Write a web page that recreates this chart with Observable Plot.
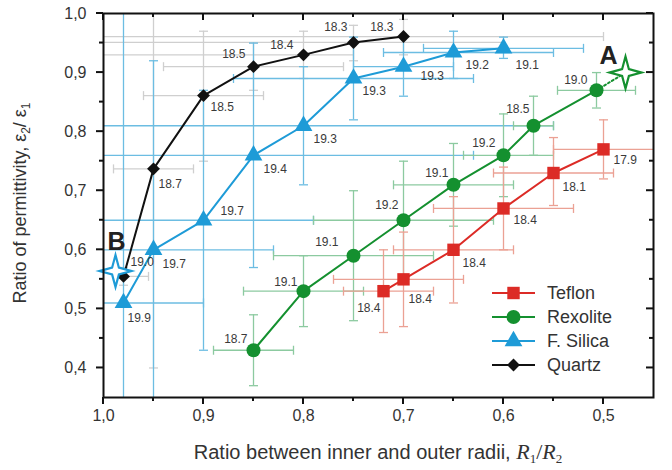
<!DOCTYPE html>
<html><head><meta charset="utf-8">
<script src="https://cdn.jsdelivr.net/npm/d3@7"></script>
<script src="https://cdn.jsdelivr.net/npm/@observablehq/plot@0.6"></script>
<style>
html,body{margin:0;padding:0;background:#fff;}
#chart{position:relative;width:672px;height:470px;}
</style></head><body><div id="chart"></div>
<script>
// ---------- data ----------
const seriesNames = ["Teflon", "Rexolite", "F. Silica", "Quartz"];

const teflonX  = [0.72, 0.70, 0.65, 0.60, 0.55, 0.50];
const teflonY  = [0.53, 0.55, 0.60, 0.67, 0.73, 0.77];
const teflonXL = [0.76, 0.77, 0.71, 0.67, 0.61, 0.55];
const teflonXR = [0.67, 0.64, 0.59, 0.53, 0.49, 0.43];
const teflonYL = [0.46, 0.47, 0.51, 0.60, 0.675, 0.72];
const teflonYH = [0.60, 0.63, 0.69, 0.74, 0.79, 0.82];
const teflonLabels = ["18.4", "18.4", "18.4", "18.4", "18.1", "17.9"];

const rexoliteX  = [0.85, 0.80, 0.75, 0.70, 0.65, 0.60, 0.57, 0.507];
const rexoliteY  = [0.43, 0.53, 0.59, 0.65, 0.71, 0.76, 0.81, 0.87];
const rexoliteXL = [0.89, 0.86, 0.83, 0.79, 0.71, 0.64, 0.59, 0.546];
const rexoliteXR = [0.81, 0.74, 0.67, 0.61, 0.59, 0.55, 0.55, 0.468];
const rexoliteYL = [0.37, 0.47, 0.48, 0.55, 0.64, 0.69, 0.76, 0.84];
const rexoliteYH = [0.49, 0.59, 0.70, 0.75, 0.78, 0.83, 0.86, 0.90];
const rexoliteLabels = ["18.7", "19.1", "19.1", "19.2", "19.1", "19.2", "18.5", "19.0"];

const silicaX  = [0.98, 0.95, 0.90, 0.85, 0.80, 0.75, 0.70, 0.65, 0.60];
const silicaY  = [0.51, 0.60, 0.65, 0.76, 0.81, 0.89, 0.91, 0.934, 0.941];
const silicaXL = [1.02, 1.02, 1.02, 1.02, 1.02, 0.87, 0.75, 0.72, 0.68];
const silicaXR = [0.90, 0.83, 0.79, 0.63, 0.55, 0.63, 0.65, 0.55, 0.52];
const silicaYL = [0.20, 0.20, 0.43, 0.57, 0.71, 0.82, 0.86, 0.89, 0.924];
const silicaYH = [1.05, 0.92, 0.87, 0.95, 0.91, 0.96, 0.96, 0.97, 0.96];
const silicaLabels = ["19.9", "19.7", "19.7", "19.4", "19.3", "19.3", "19.3", "19.2", "19.1"];

const quartzX  = [0.98, 0.95, 0.90, 0.85, 0.80, 0.75, 0.70];
const quartzY  = [0.555, 0.737, 0.861, 0.91, 0.93, 0.951, 0.961];
const quartzXL = [0.99, 0.99, 0.96, 0.94, 1.02, 1.02, 1.02];
const quartzXR = [0.955, 0.91, 0.84, 0.76, 0.75, 0.60, 0.50];
const quartzYL = [0.54, 0.40, 0.75, 0.87, 0.89, 0.92, 0.93];
const quartzYH = [0.57, 1.07, 0.97, 0.95, 0.97, 0.98, 0.99];
const quartzLabels = ["19.0", "18.7", "18.5", "18.5", "18.4", "18.3", "18.3"];

const starPoints = [{name: "A", x: 0.478, y: 0.90}, {name: "B", x: 0.988, y: 0.564}];

const xMajorTicks = [1.0, 0.9, 0.8, 0.7, 0.6, 0.5];
const xMinorTicks = [0.95, 0.85, 0.75, 0.65, 0.55];
const yMajorTicks = [0.4, 0.5, 0.6, 0.7, 0.8, 0.9, 1.0];
const yMinorTicks = [0.45, 0.55, 0.65, 0.75, 0.85, 0.95];

// ---------- label placement (layout, pixels) ----------
const teflonLabelPos   = [[-3,17,"end"],[5,20,"start"],[9,13,"start"],[10,12,"start"],[9,14,"start"],[10,11,"start"]];
const rexoliteLabelPos = [[-6,-11,"end"],[-6,-9,"end"],[-15,-14,"end"],[-5,-15,"end"],[-5,-12,"end"],[-8,-12,"end"],[-4,-17,"end"],[-9,-10,"end"]];
const silicaLabelPos   = [[4,15,"start"],[9,14,"start"],[17,-9,"start"],[10,14,"start"],[10,13,"start"],[9,13,"start"],[17,9,"start"],[12,13,"start"],[12,17,"start"]];
const quartzLabelPos   = [[7,-14,"start"],[5,15,"start"],[7,12,"start"],[-8,-13,"end"],[-10,-10,"end"],[-6,-15,"end"],[-10,-9,"end"]];

// ---------- styles ----------
const colors    = ["#dc2b26", "#14902f", "#1e9bd7", "#111111"];
const errColors = ["#eba194", "#8ccaa0", "#6cbde2", "#cfcfcf"];
const symbols   = ["square", "circle", "triangle", "diamond2"];
const radii     = [7, 7, 6.6, 5.8];

function rows(X, Y, XL, XR, YL, YH, L) {
  return X.map((x, i) => ({x, y: Y[i], xl: XL[i], xr: XR[i], yl: YL[i], yh: YH[i], label: L[i]}));
}
const series = [
  rows(teflonX, teflonY, teflonXL, teflonXR, teflonYL, teflonYH, teflonLabels),
  rows(rexoliteX, rexoliteY, rexoliteXL, rexoliteXR, rexoliteYL, rexoliteYH, rexoliteLabels),
  rows(silicaX, silicaY, silicaXL, silicaXR, silicaYL, silicaYH, silicaLabels),
  rows(quartzX, quartzY, quartzXL, quartzXR, quartzYL, quartzYH, quartzLabels)
];
const labelPos = [teflonLabelPos, rexoliteLabelPos, silicaLabelPos, quartzLabelPos];

const capV = {draw(ctx, size) { const r = Math.sqrt(size / Math.PI); ctx.moveTo(0, -r); ctx.lineTo(0, r); }};
const capH = {draw(ctx, size) { const r = Math.sqrt(size / Math.PI); ctx.moveTo(-r, 0); ctx.lineTo(r, 0); }};
const star4 = {draw(ctx, size) {
  const R = Math.sqrt(size / Math.PI), r = R * 0.3;
  for (let i = 0; i < 8; i++) {
    const a = i * Math.PI / 4 - Math.PI / 2, rr = i % 2 ? r : R;
    const px = rr * Math.cos(a), py = rr * Math.sin(a);
    if (i) ctx.lineTo(px, py); else ctx.moveTo(px, py);
  }
  ctx.closePath();
}};

const marks = [];
[3, 2, 1, 0].forEach(k => {
  const d = series[k], c = errColors[k];
  marks.push(Plot.ruleY(d, {y: "y", x1: "xl", x2: "xr", stroke: c, strokeWidth: 1.3, clip: true}));
  marks.push(Plot.ruleX(d, {x: "x", y1: "yl", y2: "yh", stroke: c, strokeWidth: 1.3, clip: true}));
  marks.push(Plot.dot(d, {x: "xl", y: "y", symbol: capV, r: 4.5, fill: "none", stroke: c, strokeWidth: 1.3, clip: true}));
  marks.push(Plot.dot(d, {x: "xr", y: "y", symbol: capV, r: 4.5, fill: "none", stroke: c, strokeWidth: 1.3, clip: true}));
  marks.push(Plot.dot(d, {x: "x", y: "yl", symbol: capH, r: 4.5, fill: "none", stroke: c, strokeWidth: 1.3, clip: true}));
  marks.push(Plot.dot(d, {x: "x", y: "yh", symbol: capH, r: 4.5, fill: "none", stroke: c, strokeWidth: 1.3, clip: true}));
});
const rexLast = series[1][series[1].length - 1];
marks.push(Plot.line([rexLast, starPoints[0]], {x: "x", y: "y", stroke: colors[1], strokeWidth: 2, strokeDasharray: "2,2.5"}));
[3, 2, 1, 0].forEach(k => {
  const d = series[k];
  marks.push(Plot.line(d, {x: "x", y: "y", stroke: colors[k], strokeWidth: 2}));
  marks.push(Plot.dot(d, {x: "x", y: "y", symbol: symbols[k], r: radii[k], fill: colors[k], stroke: "none"}));
});
marks.push(Plot.dot([starPoints[0]], {x: "x", y: "y", symbol: star4, r: 16, fill: "white", stroke: colors[1], strokeWidth: 2.2}));
marks.push(Plot.dot([starPoints[1]], {x: "x", y: "y", symbol: star4, r: 16, fill: "white", stroke: colors[2], strokeWidth: 2.2}));
marks.push(Plot.text([starPoints[0]], {x: "x", y: "y", text: "name", dx: -17, dy: -17, fontSize: 25, fontWeight: "bold", fill: "#222"}));
marks.push(Plot.text([starPoints[1]], {x: "x", y: "y", text: "name", dx: 1, dy: -29, fontSize: 25, fontWeight: "bold", fill: "#222"}));
series.forEach((d, k) => {
  d.forEach((row, i) => {
    const [dx, dy, anchor] = labelPos[k][i];
    marks.push(Plot.text([row], {x: "x", y: "y", text: "label", dx, dy, textAnchor: anchor, fontSize: 12, fill: "#3a3a3a"}));
  });
});
marks.push(Plot.frame({stroke: "#111", strokeWidth: 2}));

const fmt = d => d.toFixed(1).replace(".", ",");
const plot = Plot.plot({
  width: 672, height: 470,
  marginLeft: 103, marginRight: 19, marginTop: 13, marginBottom: 73,
  style: {fontFamily: "'Liberation Sans', Arial, sans-serif", fontSize: "16px", color: "#333", background: "white", overflow: "visible"},
  x: {domain: [1.0, 0.45], ticks: xMajorTicks, tickFormat: fmt, tickSize: 0, tickPadding: 12, label: null},
  y: {domain: [0.35, 1.0], ticks: yMajorTicks, tickFormat: fmt, tickSize: 0, tickPadding: 17, label: null},
  marks
});
document.getElementById("chart").appendChild(plot);

// ---------- ticks, titles, legend via Plot's scales ----------
const svg = d3.select(plot);
const xs = plot.scale("x"), ys = plot.scale("y");
const fx = xs.apply ? xs.apply : d3.scaleLinear(xs.domain, xs.range);
const fy = ys.apply ? ys.apply : d3.scaleLinear(ys.domain, ys.range);
const x0 = fx(1.0), x1 = fx(0.45), y0 = fy(1.0), y1 = fy(0.35);
const tg = svg.append("g").attr("stroke", "#111").attr("stroke-width", 2);
const tick = (xa, ya, xb, yb) => tg.append("line").attr("x1", xa).attr("y1", ya).attr("x2", xb).attr("y2", yb);
xMajorTicks.forEach(v => { const p = fx(v); tick(p, y1, p, y1 + 7); tick(p, y0, p, y0 + 7); });
xMinorTicks.forEach(v => { const p = fx(v); tick(p, y1, p, y1 + 4); tick(p, y0, p, y0 + 4); });
yMajorTicks.forEach(v => { const p = fy(v); tick(x0, p, x0 - 7, p); tick(x1, p, x1 - 7, p); });
yMinorTicks.forEach(v => { const p = fy(v); tick(x0, p, x0 - 4, p); tick(x1, p, x1 - 4, p); });

const titleFont = "'Liberation Sans', Arial, sans-serif";
const yt = svg.append("text").attr("transform", `translate(26,${(y0 + y1) / 2 - 2}) rotate(-90)`)
  .attr("text-anchor", "middle").attr("font-family", titleFont).attr("font-size", 18).attr("fill", "#333");
yt.append("tspan").text("Ratio of permittivity, ε");
yt.append("tspan").attr("font-size", 12).attr("dy", 4).text("2");
yt.append("tspan").attr("dy", -4).text("/ ε");
yt.append("tspan").attr("font-size", 12).attr("dy", 4).text("1");

const xt = svg.append("text").attr("x", 378).attr("y", 459)
  .attr("text-anchor", "middle").attr("font-family", titleFont).attr("font-size", 20).attr("fill", "#333");
xt.append("tspan").text("Ratio between inner and outer radii, ");
xt.append("tspan").attr("font-family", "'Liberation Serif', serif").attr("font-style", "italic").attr("font-size", 22).text("R");
xt.append("tspan").attr("font-family", "'Liberation Serif', serif").attr("font-size", 13).attr("dy", 4).text("1");
xt.append("tspan").attr("font-family", "'Liberation Serif', serif").attr("font-size", 22).attr("dy", -4).text("/");
xt.append("tspan").attr("font-family", "'Liberation Serif', serif").attr("font-style", "italic").attr("font-size", 22).text("R");
xt.append("tspan").attr("font-family", "'Liberation Serif', serif").attr("font-size", 13).attr("dy", 4).text("2");

// legend
const lg = svg.append("g").attr("transform", "translate(492,293)");
seriesNames.forEach((name, k) => {
  const g = lg.append("g").attr("transform", `translate(0,${k * 24})`);
  g.append("line").attr("x1", 0).attr("x2", 43).attr("stroke", colors[k]).attr("stroke-width", 2);
  const sym = {square: d3.symbolSquare, circle: d3.symbolCircle, triangle: d3.symbolTriangle, diamond2: d3.symbolDiamond2}[symbols[k]];
  g.append("path").attr("transform", "translate(21.5,0)").attr("d", d3.symbol(sym, Math.PI * radii[k] * radii[k])()).attr("fill", colors[k]);
  g.append("text").attr("x", 55).attr("dy", "0.35em").attr("text-anchor", "start").attr("font-family", titleFont).attr("font-size", 18).attr("fill", "#333").text(name);
});
</script></body></html>
